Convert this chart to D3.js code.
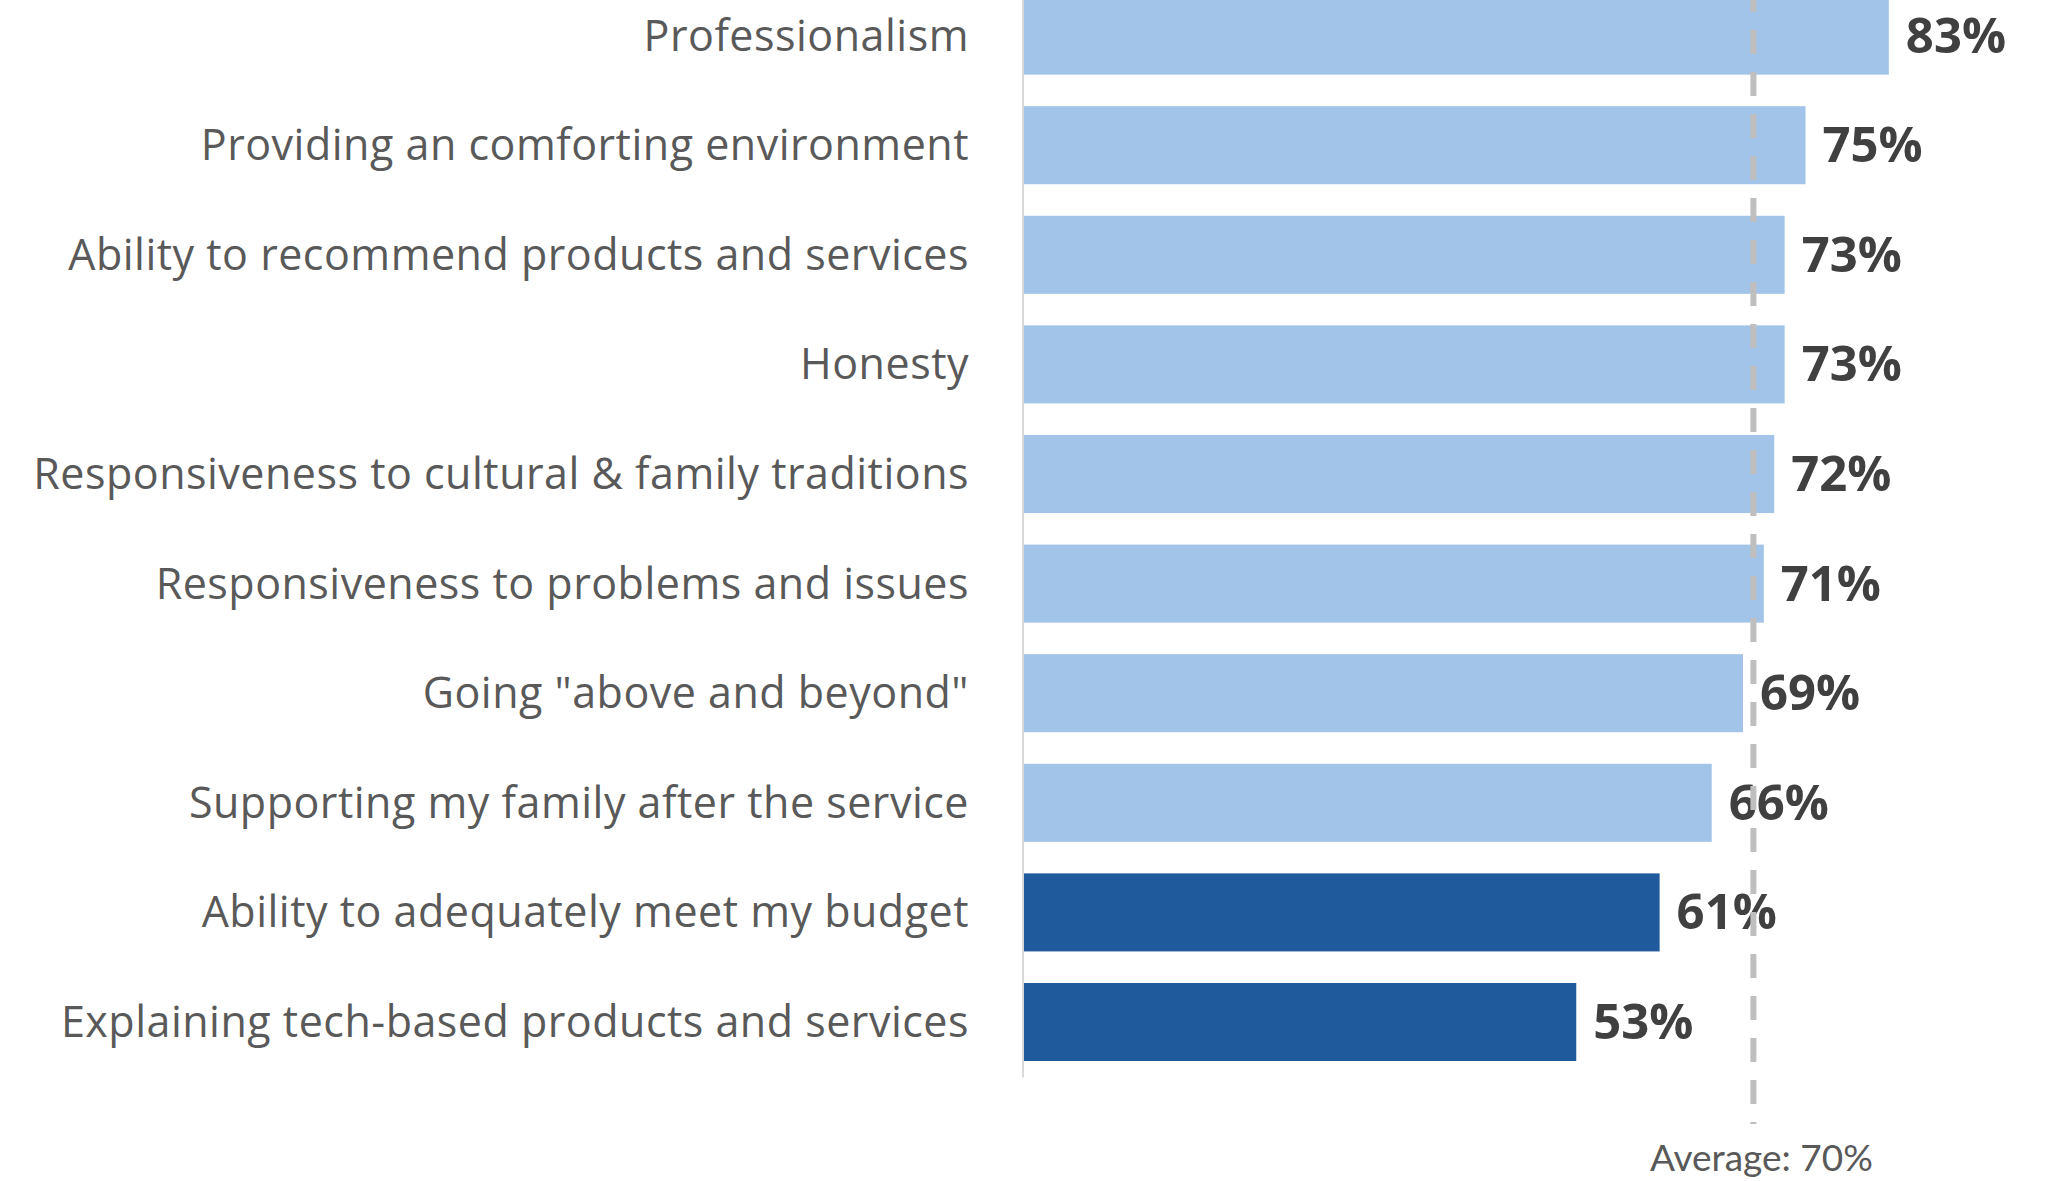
<!DOCTYPE html>
<html>
<head>
<meta charset="utf-8">
<script src="https://cdn.jsdelivr.net/npm/d3@7"></script>
<style>
  html, body { margin: 0; padding: 0; background: #ffffff; }
  svg { display: block; }
</style>
</head>
<body>
<svg id="chart" width="2067" height="1181"></svg>
<script>
// Share of respondents rating each attribute as important
const categories = [
  "Professionalism",
  "Providing an comforting environment",
  "Ability to recommend products and services",
  "Honesty",
  "Responsiveness to cultural & family traditions",
  "Responsiveness to problems and issues",
  "Going \"above and beyond\"",
  "Supporting my family after the service",
  "Ability to adequately meet my budget",
  "Explaining tech-based products and services"
];
const values = [83, 75, 73, 73, 72, 71, 69, 66, 61, 53];
// Attributes below the average are highlighted in dark blue
const highlighted = [false, false, false, false, false, false, false, false, true, true];
const averageValue = 70;
const averageLabel = "Average: 70%";

const svg = d3.select("#chart");

const x = d3.scaleLinear().domain([0, 100]).range([1024, 1024 + 1042]);
const y = d3.scaleBand()
  .domain(categories)
  .range([-19.2, 1076.8])
  .paddingInner(0.288)
  .paddingOuter(0.144);

const labelFont = "'Open Sans', Lato, sans-serif";

// vertical baseline axis
svg.append("line")
  .attr("x1", x(0) - 1).attr("x2", x(0) - 1)
  .attr("y1", 0).attr("y2", 1077.5)
  .attr("stroke", "#d9d9d9").attr("stroke-width", 2);

// bars
svg.append("g").selectAll("rect")
  .data(values)
  .join("rect")
  .attr("x", x(0))
  .attr("y", (d, i) => y(categories[i]))
  .attr("width", d => x(d) - x(0))
  .attr("height", y.bandwidth())
  .attr("fill", (d, i) => highlighted[i] ? "#1f5a9c" : "#a2c4e8");

// category labels
svg.append("g").selectAll("text")
  .data(categories)
  .join("text")
  .attr("x", 969)
  .attr("y", d => y(d) + y.bandwidth() / 2 + 15)
  .attr("text-anchor", "end")
  .attr("font-family", labelFont)
  .attr("font-size", 43)
  .attr("letter-spacing", 0.5)
  .attr("fill", "#595959")
  .text(d => d);

// value labels
svg.append("g").selectAll("text")
  .data(values)
  .join("text")
  .attr("x", d => x(d) + 17)
  .attr("y", (d, i) => y(categories[i]) + y.bandwidth() / 2 + 17)
  .attr("font-family", labelFont)
  .attr("font-weight", 700)
  .attr("font-size", 49)
  .attr("fill", "#404040")
  .text(d => d + "%");

// average reference line
svg.append("line")
  .attr("x1", x(averageValue)).attr("x2", x(averageValue))
  .attr("y1", -12).attr("y2", 1124)
  .attr("stroke", "#bfbfbf")
  .attr("stroke-width", 6)
  .attr("stroke-dasharray", "24,18");

svg.append("text")
  .attr("x", x(averageValue) + 8)
  .attr("y", 1171)
  .attr("text-anchor", "middle")
  .attr("font-family", "Lato, 'Open Sans', sans-serif")
  .attr("font-size", 37)
  .attr("fill", "#595959")
  .text(averageLabel);
</script>
</body>
</html>
